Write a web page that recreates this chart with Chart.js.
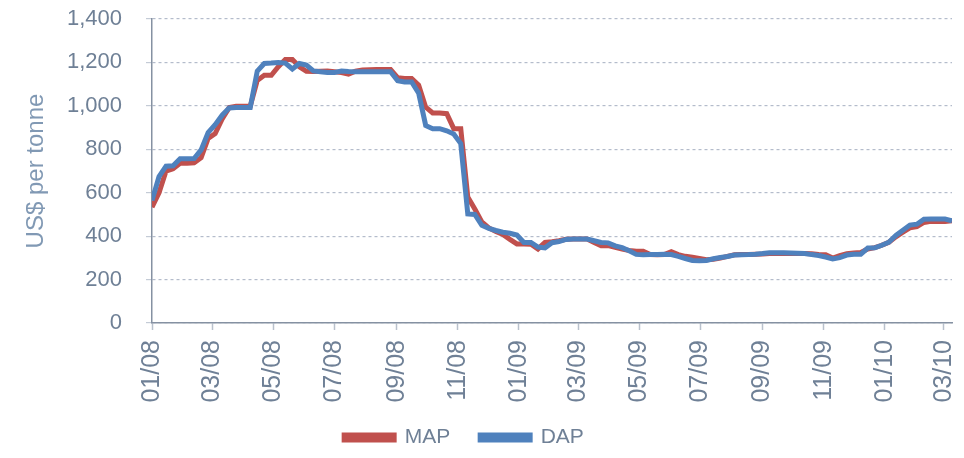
<!DOCTYPE html>
<html>
<head>
<meta charset="utf-8">
<script src="https://cdn.jsdelivr.net/npm/chart.js@4/dist/chart.umd.min.js"></script>
<style>
    html, body { margin: 0; padding: 0; background: #fff; }
</style>
</head>
<body>
<canvas id="chart" width="964" height="458"></canvas>
<script>
// Weekly fertilizer prices, US$ per tonne (first week 1 Jan 2008)
const firstWeek = '2008-01-01';

const mapPrices = [
    533, 600, 700, 710, 736, 736, 738, 761, 850, 872,
    940, 992, 998, 998, 998, 1117, 1141, 1141, 1180, 1214,
    1214, 1180, 1159, 1158, 1159, 1160, 1157, 1153, 1146, 1160,
    1165, 1166, 1167, 1167, 1167, 1130, 1126, 1126, 1096, 994,
    967, 967, 964, 895, 895, 580, 525, 465, 438, 422,
    408, 385, 364, 364, 363, 341, 371, 374, 379, 386,
    387, 387, 387, 371, 356, 356, 348, 340, 334, 330,
    330, 315, 314, 315, 328, 315, 307, 303, 297, 291,
    294, 299, 307, 314, 315, 316, 317, 318, 320, 320,
    320, 320, 320, 320, 319, 316, 314, 299, 310, 319,
    322, 325, 341, 347, 358, 372, 397, 418, 438, 444,
    463, 468, 468, 468, 471
];

const dapPrices = [
    564, 674, 722, 724, 756, 756, 757, 797, 877, 913,
    957, 990, 992, 992, 992, 1160, 1195, 1197, 1200, 1197,
    1170, 1195, 1188, 1161, 1157, 1154, 1154, 1160, 1158, 1157,
    1157, 1157, 1157, 1157, 1157, 1116, 1110, 1110, 1058, 910,
    895, 895, 885, 870, 826, 502, 500, 450, 436, 426,
    418, 413, 405, 371, 371, 350, 346, 370, 375, 385,
    387, 387, 387, 379, 371, 369, 355, 347, 333, 316,
    314, 315, 316, 317, 315, 307, 297, 288, 287, 288,
    296, 302, 306, 313, 314, 315, 317, 320, 324, 324,
    323, 322, 321, 320, 315, 311, 304, 295, 301, 313,
    317, 317, 345, 346, 358, 372, 403, 427, 451, 455,
    478, 479, 479, 479, 471
];

// x axis labels (month/year), one every two months
const tickLabels = ['01/08', '03/08', '05/08', '07/08', '09/08', '11/08', '01/09',
                    '03/09', '05/09', '07/09', '09/09', '11/09', '01/10', '03/10'];

const yTicks = [0, 200, 400, 600, 800, 1000, 1200, 1400];

const DAY = 86400000;
const start = Date.parse(firstWeek + 'T00:00:00Z');

function labelToDay(lbl) {
    const [mm, yy] = lbl.split('/').map(Number);
    return (Date.UTC(2000 + yy, mm - 1, 1) - start) / DAY;
}
const tickDays = tickLabels.map(labelToDay);
const weekDay = i => i * 7;

const mapData = mapPrices.map((v, i) => ({ x: weekDay(i), y: v }));
const dapData = dapPrices.map((v, i) => ({ x: weekDay(i), y: v }));

const textColor = '#6f8096';
const axisColor = '#8591a2';
const fontFamily = '"Liberation Sans", Arial, sans-serif';

// nudge the legend a bit to the left, like the original
const legendShift = {
    id: 'legendShift',
    afterLayout(chart) {
        if (chart.legend) {
            chart.legend.left -= 12;
            chart.legend.right -= 12;
        }
    }
};

const ctx = document.getElementById('chart').getContext('2d');
const chart = new Chart(ctx, {
    type: 'line',
    data: {
        datasets: [
            {
                label: 'MAP',
                data: mapData,
                borderColor: '#C0504D',
                backgroundColor: '#C0504D',
                borderWidth: 5,
                pointRadius: 0,
                tension: 0,
                order: 1
            },
            {
                label: 'DAP',
                data: dapData,
                borderColor: '#4F81BD',
                backgroundColor: '#4F81BD',
                borderWidth: 5,
                pointRadius: 0,
                tension: 0,
                order: 0
            }
        ]
    },
    plugins: [legendShift],
    options: {
        responsive: false,
        animation: false,
        layout: { padding: { top: 19, right: 12, left: 0, bottom: 0 } },
        plugins: {
            tooltip: { enabled: false },
            legend: {
                position: 'bottom',
                labels: {
                    color: textColor,
                    font: { family: fontFamily, size: 21 },
                    boxWidth: 50,
                    boxHeight: 5,
                    padding: 30,
                    sort: (a, b) => a.datasetIndex - b.datasetIndex
                }
            }
        },
        scales: {
            x: {
                type: 'linear',
                min: 0,
                max: weekDay(mapPrices.length - 1),
                afterBuildTicks: s => { s.ticks = tickDays.map(v => ({ value: v })); },
                afterFit: s => {
                    s.height = 74;
                    s.paddingLeft = 0;
                    s.paddingRight = 0;
                    // labels run a little into the legend band, don't clip them
                    s._computeLabelArea = () => undefined;
                },
                ticks: {
                    autoSkip: false,
                    minRotation: 90,
                    maxRotation: 90,
                    padding: 10,
                    color: textColor,
                    font: { family: fontFamily, size: 25 },
                    callback: v => tickLabels[tickDays.indexOf(v)]
                },
                grid: {
                    drawOnChartArea: false,
                    drawTicks: true,
                    tickLength: 7,
                    tickColor: '#b9c1cc',
                    tickWidth: 1.5
                },
                border: { color: axisColor, width: 1.5 }
            },
            y: {
                min: 0,
                max: 1400,
                afterBuildTicks: s => { s.ticks = yTicks.map(v => ({ value: v })); },
                afterFit: s => { s.width = 152; s.paddingTop = 0; s.paddingBottom = 0; },
                ticks: {
                    padding: 24,
                    color: textColor,
                    font: { family: fontFamily, size: 22 },
                    callback: v => v.toLocaleString('en-US')
                },
                title: {
                    display: true,
                    text: 'US$ per tonne',
                    color: '#8199b4',
                    font: { family: fontFamily, size: 24 },
                    padding: { top: 22, bottom: 0 }
                },
                grid: {
                    color: '#b4bccb',
                    lineWidth: 1.2,
                    drawTicks: true,
                    tickLength: 6,
                    tickColor: '#c4cbd6',
                    tickBorderDash: []
                },
                border: { color: axisColor, width: 1.5, dash: [3, 3] }
            }
        }
    }
});
</script>
</body>
</html>
